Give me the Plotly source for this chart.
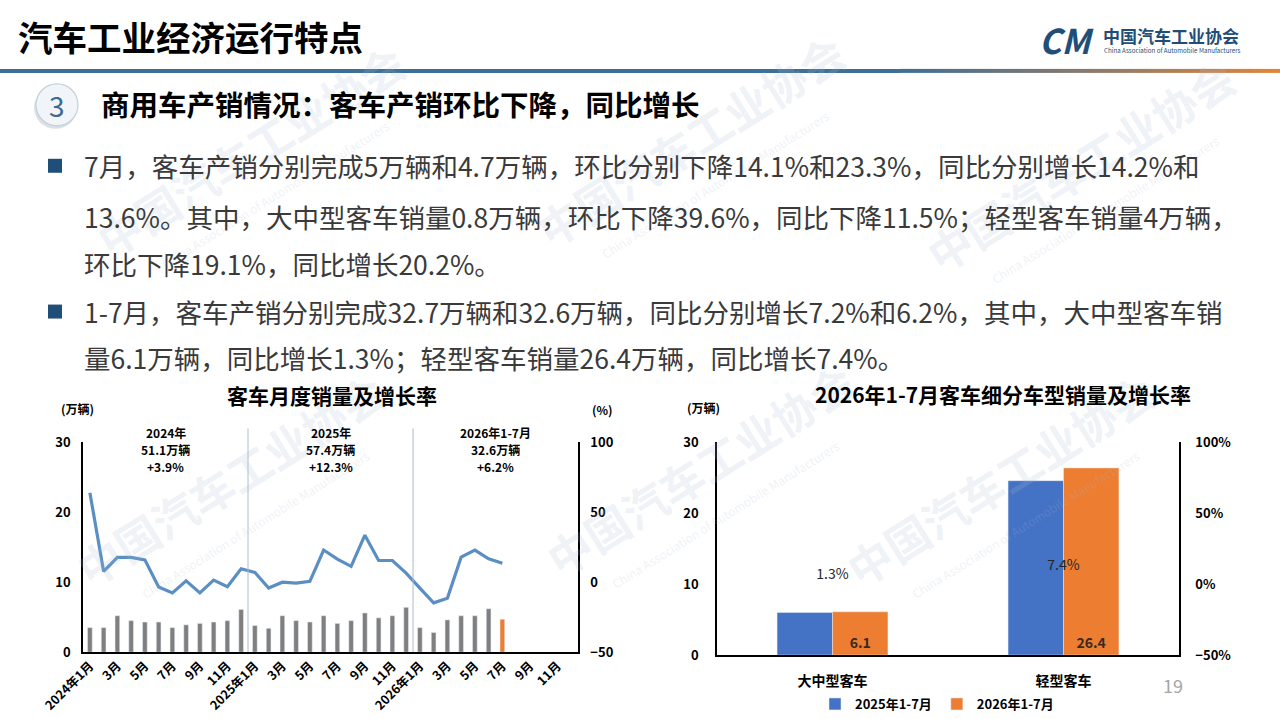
import plotly.graph_objects as go

W, H = 1280, 719
FONT = "Noto Sans CJK SC"


def px(x):
    return x / W


def py(y):
    return 1 - y / H


# ---- left chart: monthly bus sales (万辆) and yoy growth (%) ----
month_labels = ["2024年1月", "2月", "3月", "4月", "5月", "6月", "7月", "8月", "9月", "10月", "11月", "12月",
                "2025年1月", "2月", "3月", "4月", "5月", "6月", "7月", "8月", "9月", "10月", "11月", "12月",
                "2026年1月", "2月", "3月", "4月", "5月", "6月", "7月", "8月", "9月", "10月", "11月", "12月"]
sales_2024 = [3.5, 3.5, 5.2, 4.5, 4.3, 4.3, 3.5, 3.9, 4.1, 4.3, 4.5, 6.1]
sales_2025 = [3.8, 3.4, 5.2, 4.5, 4.3, 5.2, 4.1, 4.5, 5.6, 4.9, 5.2, 6.4]
sales_2026 = [3.5, 2.8, 4.6, 5.2, 5.2, 6.2, 4.7]
growth_2024 = [64, 7.7, 17.7, 17.7, 16, -3.4, -7.7, 1, -7.7, 1.5, -3.2, 9.6]
growth_2025 = [7, -4.2, 0, -0.6, 0.6, 23, 16.5, 11.3, 33.6, 15.5, 15.5, 6.5]
growth_2026 = [-4.2, -14.8, -11.5, 17.9, 23, 16.7, 13.6]
year_notes = [["2024年", "51.1万辆", "+3.9%"],
              ["2025年", "57.4万辆", "+12.3%"],
              ["2026年1-7月", "32.6万辆", "+6.2%"]]

# ---- right chart: segment sales Jan-Jul ----
segments = ["大中型客车", "轻型客车"]
ytd_2025 = [6.0, 24.6]
ytd_2026 = [6.1, 26.4]
ytd_growth = [1.3, 7.4]

# ---- slide text ----
page_title = "汽车工业经济运行特点"
section_no = "3"
section_title = "商用车产销情况：客车产销环比下降，同比增长"
body_lines = [
    "7月，客车产销分别完成5万辆和4.7万辆，环比分别下降14.1%和23.3%，同比分别增长14.2%和",
    "13.6%。其中，大中型客车销量0.8万辆，环比下降39.6%，同比下降11.5%；轻型客车销量4万辆，",
    "环比下降19.1%，同比增长20.2%。",
    "1-7月，客车产销分别完成32.7万辆和32.6万辆，同比分别增长7.2%和6.2%，其中，大中型客车销",
    "量6.1万辆，同比增长1.3%；轻型客车销量26.4万辆，同比增长7.4%。",
]

GRAY = "#7f7f7f"
ORANGE = "#ed7d31"
BLUE = "#4472c4"
LINE_BLUE = "#5b8ec2"
NAVY = "#1f4e79"

n = len(month_labels)
x_idx = list(range(n))
sales = sales_2024 + sales_2025 + sales_2026
growth = growth_2024 + growth_2025 + growth_2026
sales = sales + [None] * (n - len(sales))
growth = growth + [None] * (n - len(growth))
bar_colors = [GRAY] * n
bar_colors[len(sales_2024) + len(sales_2025) + len(sales_2026) - 1] = ORANGE

fig = go.Figure()

fig.add_trace(go.Bar(x=x_idx, y=sales, marker_color=bar_colors, width=0.34,
                     xaxis="x", yaxis="y", showlegend=False, hoverinfo="skip"))
fig.add_trace(go.Scatter(x=x_idx, y=growth, mode="lines", line=dict(color=LINE_BLUE, width=3.2),
                         xaxis="x", yaxis="y2", showlegend=False, connectgaps=False))

fig.add_trace(go.Bar(x=segments, y=ytd_2025, name="2025年1-7月", marker_color=BLUE,
                     width=0.24, offset=-0.24, xaxis="x2", yaxis="y3"))
fig.add_trace(go.Bar(x=segments, y=ytd_2026, name="2026年1-7月", marker_color=ORANGE,
                     width=0.24, offset=0, xaxis="x2", yaxis="y3",
                     text=[str(v) for v in ytd_2026], textposition="inside", insidetextanchor="start",
                     textangle=0, textfont=dict(color="#3a2a20", size=14, family=FONT, weight="bold")))
fig.add_trace(go.Scatter(x=segments, y=ytd_growth, mode="text",
                         text=[f"{v}%" for v in ytd_growth], textposition="top center",
                         textfont=dict(color="#262626", size=14, family=FONT),
                         xaxis="x2", yaxis="y4", showlegend=False))

tick_font = dict(family=FONT, size=13, color="black", weight="bold")
axis_common = dict(showgrid=False, zeroline=False, showline=True, linecolor="black",
                   linewidth=1.5, ticks="", automargin=False, tickfont=tick_font)

left_dom_x = [px(83), px(578)]
left_dom_y = [py(653), py(443)]
right_dom_x = [px(717), px(1179)]
right_dom_y = [py(656), py(443)]

fig.update_layout(
    width=W, height=H, margin=dict(l=0, r=0, t=0, b=0),
    paper_bgcolor="white", plot_bgcolor="rgba(0,0,0,0)",
    font=dict(family=FONT, color="black"),
    barmode="overlay",
    xaxis=dict(domain=left_dom_x, anchor="y", range=[-0.5, n - 0.5],
               tickvals=x_idx[::2], ticktext=month_labels[::2], tickangle=-45,
               **{**axis_common, "tickfont": dict(family=FONT, size=12.5, color="black", weight="bold")}),
    yaxis=dict(domain=left_dom_y, anchor="x", range=[0, 30], dtick=10, ticklabelstandoff=8, **axis_common),
    yaxis2=dict(overlaying="y", anchor="x", side="right", range=[-50, 100], dtick=50,
                ticklabelstandoff=8, **axis_common),
    xaxis2=dict(domain=right_dom_x, anchor="y3", range=[-0.5, 1.5], ticklabelstandoff=12,
                **{**axis_common, "tickfont": dict(family=FONT, size=14, color="black", weight="bold")}),
    yaxis3=dict(domain=right_dom_y, anchor="x2", range=[0, 30], dtick=10, ticklabelstandoff=14, **axis_common),
    yaxis4=dict(overlaying="y3", anchor="x2", side="right", range=[-50, 100], dtick=50,
                ticksuffix="%", ticklabelstandoff=12, **axis_common),
    legend=dict(orientation="h", x=px(937), xanchor="center", y=py(705), yanchor="middle",
                font=dict(family=FONT, size=13, color="black", weight="bold"),
                bgcolor="rgba(0,0,0,0)", itemwidth=30, traceorder="normal"),
)

shapes = []
# header rule: steel blue fading into orange on the right
shapes.append(dict(type="rect", xref="paper", yref="paper", x0=0, x1=px(900), y0=py(73), y1=py(69),
                   fillcolor="#3e6f96", line_width=0, layer="below"))
stops = [(900, (62, 111, 150)), (1090, (140, 122, 108)), (1280, (226, 134, 58))]
seg = 10
for xs in range(900, 1280, seg):
    xm = xs + seg / 2
    for (xa, ca), (xb, cb) in zip(stops[:-1], stops[1:]):
        if xa <= xm <= xb:
            t = (xm - xa) / (xb - xa)
            c = tuple(int(ca[k] + (cb[k] - ca[k]) * t) for k in range(3))
    shapes.append(dict(type="rect", xref="paper", yref="paper", x0=px(xs), x1=px(xs + seg + 0.5),
                       y0=py(73), y1=py(69), fillcolor=f"rgb{c}", line_width=0, layer="below"))

# section number badge
shapes.append(dict(type="circle", xref="paper", yref="paper", x0=px(34), x1=px(77), y0=py(129), y1=py(87),
                   fillcolor="#d9e0e8", line_width=0, layer="below"))
shapes.append(dict(type="circle", xref="paper", yref="paper", x0=px(36), x1=px(78), y0=py(126), y1=py(84),
                   fillcolor="#f1f4f8", line=dict(color="#c3cfdb", width=1.2), layer="below"))

# bullets
for yb in (166, 312):
    shapes.append(dict(type="rect", xref="paper", yref="paper", x0=px(48), x1=px(62), y0=py(yb + 7),
                       y1=py(yb - 7), fillcolor=NAVY, line_width=0))

# year separators on the monthly chart
span = left_dom_x[1] - left_dom_x[0]
for b in (12, 24):
    xs = left_dom_x[0] + span * b / n
    shapes.append(dict(type="line", xref="paper", yref="paper", x0=xs, x1=xs, y0=left_dom_y[0], y1=py(429),
                       line=dict(color="#aebdcb", width=1)))

fig.update_layout(shapes=shapes)

ann = []


def text(x, y, s, size, color="black", bold=False, xanchor="left", yanchor="middle", **kw):
    f = dict(family=FONT, size=size, color=color)
    if bold:
        f["weight"] = "bold"
    ann.append(dict(x=x, y=y, xref="paper", yref="paper", text=s, showarrow=False,
                    xanchor=xanchor, yanchor=yanchor, font=f, **kw))


# faint watermarks
wm = "rgba(170,190,210,0.2)"
for cx, cy in [(250, 150), (690, 140), (1080, 165), (230, 480), (700, 470), (1000, 480)]:
    text(px(cx), py(cy), "中国汽车工业协会", 44, color=wm, bold=True, xanchor="center", textangle=-32)
    text(px(cx + 25), py(cy + 45), "China Association of Automobile Manufacturers", 12,
         color=wm, xanchor="center", textangle=-32)

text(px(16), py(36), page_title, 34.5, bold=True)
text(px(1066), py(40), "<i>CM</i>", 34, color=NAVY, bold=True, xanchor="center")
text(px(1101), py(36), "中国汽车工业协会", 17, color=NAVY, bold=True)
text(px(1102), py(51), "China Association of Automobile Manufacturers", 6.2, color=NAVY)

text(px(57), py(105), section_no, 28, color="#3b6a94", xanchor="center")
text(px(99), py(104), section_title, 28.5, bold=True)

for s, yl in zip(body_lines, [166, 217, 264, 312, 358]):
    text(px(82), py(yl), s, 26.5, color="#3a3a3a")

# chart titles and units
text(px(332), py(396), "客车月度销量及增长率", 21, bold=True, xanchor="center")
text(px(1003), py(395), "2026年1-7月客车细分车型销量及增长率", 21, bold=True, xanchor="center")
text(px(77), py(409), "(万辆)", 12, bold=True, xanchor="center")
text(px(602), py(410), "(%)", 12, bold=True, xanchor="center")
text(px(703), py(408), "(万辆)", 12, bold=True, xanchor="center")

# yearly summaries over the monthly chart
for k, note in enumerate(year_notes):
    for j, line in enumerate(note):
        ann.append(dict(x=5.5 + 12 * k, y=py(433 + 17 * j), xref="x", yref="paper", text=line,
                        showarrow=False, xanchor="center", yanchor="middle", borderpad=0,
                        font=dict(family=FONT, size=12, color="black", weight="bold")))

text(px(1173), py(686), "19", 18, color="#a6a6a6", xanchor="center")

fig.update_layout(annotations=ann)

fig.write_html("out.html", config={"displayModeBar": False},
               post_script="document.body.style.margin='0';")
